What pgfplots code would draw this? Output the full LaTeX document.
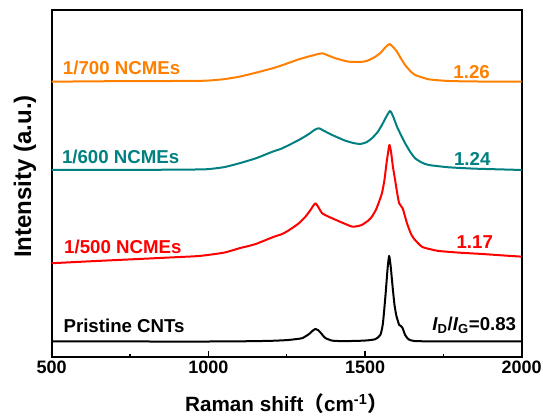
\documentclass[border=0pt]{standalone}
\usepackage{fontspec}
\setmainfont{Liberation Sans}
\newfontfamily\cjk{Noto Sans CJK SC}
\usepackage{pgfplots}
\pgfplotsset{compat=1.18}

\definecolor{cOrange}{RGB}{255,128,0}
\definecolor{cTeal}{RGB}{0,128,128}
\definecolor{cRed}{RGB}{255,0,0}

\newcommand{\lbl}{\fontsize{14}{16}\selectfont\bfseries}

\begin{document}
\begin{tikzpicture}
\begin{axis}[
    at={(0,0)}, anchor=south west,
    scale only axis, width=352.5pt, height=260pt,
    xmin=500, xmax=2000, ymin=0, ymax=346.7,
    xtick={500,1000,1500,2000}, minor xtick={750,1250,1750},
    ytick=\empty,
    xtick pos=left, tick align=inside,
    major tick length=4pt, minor tick length=2.2pt,
    axis line style={line width=1.5pt},
    every tick/.style={black, line width=1.2pt},
    /pgf/number format/assume math mode=true,
    /pgf/number format/set thousands separator={},
    xticklabel style={font=\fontsize{13.5}{15}\selectfont\bfseries},
    xlabel={Raman shift{\cjk （}cm\textsuperscript{-1}{\cjk ）}},
    xlabel style={at={(axis description cs:0.5,0)}, anchor=base, yshift=-41.5pt,
        font=\fontsize{15.5}{18}\selectfont\bfseries},
    ylabel={Intensity (a.u.)},
    ylabel style={at={(axis description cs:0,0.52)}, anchor=base, yshift=15.5pt,
        font=\fontsize{18}{20}\selectfont\bfseries},
    every axis plot/.append style={line width=1.5pt, line join=round, smooth, tension=0.35},
    clip=false,
]
% Pristine CNTs
\addplot[black] coordinates {
(500,15.2) (700,15.3) (900,15.0) (1100,15.3) (1200,15.8) (1250,16.5) (1280,17.5)
(1300,18.5) (1321,22.5) (1335,26.5) (1342,27.7) (1350,26.5) (1358,24) (1366,21)
(1374,18.5) (1395,16) (1430,15.5) (1480,15.8) (1510,16.3) (1533,17.5) (1549,21.7)
(1557,33) (1565,60) (1572,88) (1577,100.7) (1582,90) (1588,70) (1594,52) (1600,41)
(1609,31.7) (1615,30.5) (1620,28.5) (1628,21.7) (1639,17.3) (1660,15.5) (1750,15.3)
(2000,15.2)};
% 1/500
\addplot[cRed] coordinates {
(500,93.4) (600,95) (781,97.7) (900,99.5) (972,100.7) (1050,104) (1099,108.4)
(1150,112.5) (1205,119.4) (1236,122.7) (1260,127) (1289,133.4) (1310,140)
(1326,146.7) (1335,151) (1342,153.4) (1350,150) (1363,143.4) (1380,140.5)
(1395,138.4) (1427,134) (1459,130) (1475,130.5) (1490,131.7) (1510,136) (1522,140)
(1535,147) (1543,153.4) (1554,163.4) (1562,176.7) (1568,192) (1574,205) (1578,211.7)
(1583,205) (1589,190) (1596,176.7) (1603,163) (1609,153.4) (1620,148.4) (1627,141)
(1634,133.4) (1645,124) (1655,118.4) (1681,110) (1710,107.3) (1734,105.7) (1800,104)
(1872,102.7) (1950,101) (2000,100)};
% 1/600
\addplot[cTeal] coordinates {
(500,186.7) (700,186.7) (900,187) (993,187.4) (1050,189.5) (1099,193.4) (1152,198.4)
(1205,205) (1236,208.4) (1289,216.7) (1320,222.5) (1340,227) (1353,228.4) (1365,226.5)
(1395,221.7) (1437,216) (1465,213.5) (1485,212.7) (1505,214.5) (1522,218.4)
(1540,224.5) (1554,231.7) (1568,240) (1580,245.7) (1590,240) (1602,230) (1615,221.5)
(1628,213.4) (1645,204.5) (1660,198.4) (1680,194.3) (1703,191.7) (1766,189.4)
(1850,188) (2000,186.7)};
% 1/700
\addplot[cOrange] coordinates {
(500,275) (700,275.5) (900,275.7) (993,276) (1050,277.5) (1099,280) (1152,284)
(1205,288.4) (1236,291.5) (1289,297.4) (1330,301) (1363,303.4) (1380,301.5)
(1406,298.4) (1448,295) (1496,295) (1515,297) (1533,300) (1550,304) (1565,309.4)
(1578,312.7) (1590,309.5) (1602,305) (1615,298) (1628,291.7) (1645,285.5)
(1660,281.7) (1703,277.4) (1766,275.7) (1850,275.2) (2000,275)};

\node[anchor=base west, inner sep=0pt, text=cOrange, font=\lbl] at (axis cs:535,281.7) {1/700 NCMEs};
\node[anchor=base west, inner sep=0pt, text=cTeal, font=\lbl] at (axis cs:532,192.7) {1/600 NCMEs};
\node[anchor=base west, inner sep=0pt, text=cRed, font=\lbl] at (axis cs:539,102.7) {1/500 NCMEs};
\node[anchor=base west, inner sep=0pt, text=black, font=\lbl] at (axis cs:537,24) {Pristine CNTs};
\node[anchor=base east, inner sep=0pt, text=cOrange, font=\lbl] at (axis cs:1899,278.4) {1.26};
\node[anchor=base east, inner sep=0pt, text=cTeal, font=\lbl] at (axis cs:1901,190.7) {1.24};
\node[anchor=base east, inner sep=0pt, text=cRed, font=\lbl] at (axis cs:1909,107.7) {1.17};
\node[anchor=base east, inner sep=0pt, text=black, font=\lbl] at (axis cs:1983,25.7)
  {{\itshape I}\textsubscript{D}/{\itshape I}\textsubscript{G}=0.83};
\end{axis}
\pgfresetboundingbox
\path[use as bounding box] (-38.8pt,-44.5pt) rectangle (368.5pt,267.5pt);
\end{tikzpicture}
\end{document}
